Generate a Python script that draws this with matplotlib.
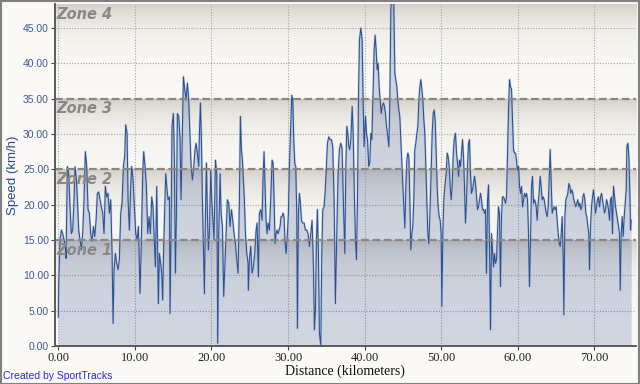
import numpy as np
import matplotlib
matplotlib.use("Agg")
import matplotlib.pyplot as plt
from matplotlib.patches import Rectangle

# ---------------- data ----------------
distance_km = [
    0.0, 0.05, 0.22, 0.40, 0.57, 0.74, 0.92, 1.01, 1.18, 1.35, 1.53, 1.70, 1.88, 2.05, 2.18, 2.36, 2.49,
    2.66, 2.83, 3.01, 3.18, 3.36, 3.53, 3.71, 3.88, 4.05, 4.23, 4.40, 4.58, 4.75, 4.93, 5.10, 5.27, 5.45,
    5.62, 5.80, 5.97, 6.14, 6.32, 6.49, 6.67, 6.84, 7.02, 7.15, 7.28, 7.45, 7.63, 7.80, 7.97, 8.15, 8.32,
    8.50, 8.67, 8.80, 8.98, 9.11, 9.28, 9.45, 9.58, 9.76, 9.93, 10.11, 10.28, 10.46, 10.67, 10.85, 11.02,
    11.15, 11.33, 11.50, 11.68, 11.85, 12.02, 12.20, 12.37,
    12.50, 12.68, 12.85, 13.07, 13.20, 13.37, 13.50, 13.63, 13.72, 13.90, 14.03, 14.16, 14.33, 14.51,
    14.59, 14.72, 14.85, 15.03, 15.16, 15.29, 15.42, 15.55, 15.73, 15.90, 16.03, 16.20, 16.34, 16.51,
    16.68, 16.86, 17.03, 17.21, 17.34, 17.51, 17.69, 17.86, 17.99, 18.16, 18.34, 18.43, 18.56, 18.69,
    18.82, 18.95, 19.08, 19.21, 19.34, 19.47, 19.60, 19.73, 19.91, 20.04, 20.17, 20.34, 20.52, 20.69,
    20.82, 20.95, 21.13, 21.26, 21.43, 21.60, 21.78, 21.91, 22.08, 22.26, 22.43, 22.61, 22.78, 22.95,
    23.13, 23.30, 23.48, 23.65, 23.78, 23.91, 24.04, 24.17, 24.30, 24.44, 24.61, 24.78,
    24.82, 24.96, 25.13, 25.30, 25.48, 25.65, 25.83, 25.96, 26.13, 26.26, 26.44, 26.61, 26.74, 26.87,
    27.00, 27.13, 27.26, 27.39, 27.57, 27.74, 27.92, 28.05, 28.18, 28.31, 28.44, 28.57, 28.70, 28.83,
    28.96, 29.09, 29.22, 29.35, 29.48, 29.62, 29.75, 29.92, 30.05, 30.18, 30.36, 30.49, 30.62, 30.75,
    30.88, 31.01, 31.14, 31.23, 31.36, 31.49, 31.62, 31.75, 31.92, 32.10, 32.27, 32.45, 32.62, 32.79,
    32.97, 33.14, 33.32, 33.45, 33.58, 33.71, 33.84, 33.97, 34.10, 34.28, 34.41, 34.54, 34.71, 34.84,
    34.97, 35.15, 35.32, 35.49, 35.67, 35.84, 36.02, 36.19, 36.37, 36.54, 36.71, 36.89, 37.06, 37.24,
    37.42, 37.55, 37.68, 37.81, 37.94, 38.07, 38.20, 38.38, 38.51, 38.68, 38.81, 38.94, 39.07, 39.20,
    39.33, 39.51, 39.68, 39.81, 39.94, 40.12, 40.25, 40.38, 40.55, 40.68, 40.82, 40.95, 41.08, 41.25,
    41.38, 41.51, 41.64, 41.77, 41.90, 42.03, 42.17, 42.30, 42.47, 42.60, 42.73, 42.86, 42.99, 43.17,
    43.30, 43.43, 43.56, 43.69, 43.82, 43.95, 44.08, 44.21, 44.34, 44.47, 44.60, 44.73, 44.87, 45.00,
    45.13, 45.26, 45.39, 45.52, 45.65, 45.78, 45.91, 46.04, 46.17, 46.30, 46.43, 46.56, 46.69, 46.83,
    46.96, 47.09, 47.22, 47.35, 47.48, 47.61, 47.74, 47.87, 48.00, 48.13, 48.26, 48.39, 48.52, 48.65,
    48.83, 48.96, 49.09, 49.22, 49.35, 49.48, 49.61, 49.74, 49.87, 50.00, 50.09,
    50.22, 50.35, 50.48, 50.66, 50.79, 50.92, 51.05, 51.18, 51.31, 51.44, 51.57, 51.70, 51.87, 52.01,
    52.14, 52.27, 52.40, 52.53, 52.66, 52.79, 52.92, 53.05, 53.18, 53.31, 53.44, 53.57, 53.70, 53.83,
    53.96, 54.10, 54.23, 54.36, 54.49, 54.62, 54.75, 54.88, 55.01, 55.14, 55.27, 55.40, 55.53, 55.66,
    55.79, 55.92, 56.06, 56.19, 56.32, 56.45, 56.58, 56.71, 56.84, 56.97, 57.10, 57.23, 57.36, 57.49,
    57.62, 57.75, 57.88, 58.01, 58.15, 58.28, 58.41, 58.54, 58.67, 58.80, 58.93, 59.06, 59.19, 59.32,
    59.45, 59.58, 59.71, 59.84, 59.97, 60.11, 60.24, 60.37, 60.50, 60.63, 60.76, 60.89, 61.02, 61.15,
    61.28, 61.41, 61.54, 61.67, 61.80, 61.93, 62.07, 62.20, 62.33,
    62.41, 62.54, 62.67, 62.80, 62.93, 63.06, 63.20, 63.33, 63.46, 63.59, 63.72, 63.85, 63.98, 64.11,
    64.24, 64.37, 64.50, 64.63, 64.76, 64.89, 65.02, 65.15, 65.29, 65.42, 65.55, 65.68, 65.81, 65.94,
    66.03, 66.16, 66.29, 66.42, 66.55, 66.68, 66.81, 66.94, 67.07, 67.20, 67.33, 67.46, 67.59, 67.72,
    67.85, 67.99, 68.12, 68.25, 68.38, 68.51, 68.64, 68.77, 68.90, 69.03, 69.16, 69.29, 69.38, 69.51,
    69.64, 69.77, 69.90, 70.03, 70.16, 70.29, 70.42, 70.55, 70.69, 70.82, 70.95, 71.08, 71.21, 71.34,
    71.47, 71.60, 71.73, 71.86, 71.99, 72.12, 72.25, 72.38, 72.51, 72.65, 72.78, 72.91, 73.04, 73.17,
    73.30, 73.39, 73.52, 73.65, 73.78, 73.91, 74.04, 74.17, 74.26, 74.39, 74.52, 74.65, 74.74, 74.82,
]

speed_kmh = [
    4.1, 8.9, 15.0, 16.4, 15.9, 15.0, 14.1, 12.4, 25.4, 24.4, 19.7, 15.9, 16.4, 20.7, 25.4, 23.5, 20.7,
    16.4, 15.0, 13.6, 15.9, 20.7, 27.5, 25.4, 19.3, 18.8, 15.9, 14.8, 16.9, 15.5, 17.8, 21.6, 21.8, 20.7,
    19.7, 18.8, 15.9, 22.6, 21.1, 21.6, 18.8, 20.7, 13.1, 3.2, 10.8, 13.1, 11.7, 10.8, 12.2, 18.8, 20.2,
    25.4, 26.8, 31.3, 30.1, 20.7, 16.4, 22.6, 25.4, 23.5, 19.7, 15.9, 15.0, 16.9, 7.4, 15.0, 24.4,
    27.5, 25.4, 22.6, 15.9, 18.3, 15.9, 21.1, 19.7,
    15.9, 11.2, 22.6, 6.0, 13.1, 11.7, 10.3, 6.5, 12.2, 19.7, 24.4, 22.6, 20.7, 21.1,
    4.6, 15.9, 31.1, 32.9, 26.3, 10.3, 18.3, 32.9, 32.5, 29.2, 20.7, 30.1, 38.1, 36.3,
    34.8, 37.2, 34.8, 29.2, 25.4, 23.5, 25.4, 27.8, 28.7, 27.3, 25.4, 30.1, 34.4, 29.2,
    20.7, 14.1, 7.4, 18.3, 25.9, 18.8, 13.6, 15.9, 24.9, 20.7, 18.3, 15.0, 26.3, 24.4,
    0.4, 15.9, 24.4, 18.8, 16.9, 7.0, 12.2, 15.9, 20.7, 20.2, 16.9, 19.3, 17.8, 15.9,
    14.5, 12.2, 10.3, 20.7, 32.5, 27.8, 26.3, 23.5, 20.7, 15.9, 13.1, 11.7,
    7.9, 12.2, 14.1, 10.3, 11.2, 13.1, 16.4, 17.4, 9.8, 18.8, 19.3, 17.8, 24.0, 27.5,
    22.6, 17.8, 15.9, 17.4, 16.4, 20.7, 26.3, 25.9, 20.7, 14.5, 15.9, 16.4, 15.9, 16.4,
    16.9, 18.3, 18.3, 18.8, 18.3, 14.5, 13.1, 15.9, 18.8, 25.4, 31.5, 35.5, 34.8, 29.2,
    25.9, 25.4, 18.8, 2.5, 18.8, 21.6, 20.2, 17.8, 17.4, 17.4, 16.4, 16.4, 15.9, 14.1,
    15.9, 17.8, 11.2, 2.3, 5.1, 15.0, 19.3, 13.1, 1.8, 0.1, 13.1, 19.3, 19.7, 21.6,
    24.4, 28.7, 29.6, 29.2, 29.2, 28.2, 20.7, 6.0, 15.9, 24.4, 27.8, 28.7, 28.0, 20.0,
    13.1, 25.4, 31.1, 30.1, 28.2, 27.8, 29.2, 33.9, 30.1, 20.7, 15.0, 12.2, 20.7, 34.8,
    43.3, 45.0, 43.3, 34.8, 28.2, 32.5, 30.1, 29.2, 25.4, 25.9, 30.1, 29.2, 34.8, 41.9,
    44.0, 41.9, 39.1, 40.0, 36.7, 34.8, 32.9, 33.9, 34.4, 33.9, 32.9, 31.1, 30.1, 28.2,
    34.8, 47.6, 50.0, 50.5, 48.1, 38.6, 37.7, 36.7, 34.8, 33.4, 32.5, 29.2, 25.4, 22.6,
    19.7, 16.7, 22.6, 26.3, 27.3, 26.8, 20.7, 13.6, 15.9, 16.9, 20.7, 27.8, 28.7, 30.1,
    31.1, 34.8, 36.7, 37.7, 36.3, 34.8, 32.0, 30.1, 25.4, 20.7, 15.9, 14.5, 18.3, 23.0,
    30.1, 32.9, 33.4, 32.0, 27.3, 22.6, 19.7, 18.3, 17.8, 15.9, 5.6,
    15.9, 20.7, 22.6, 24.4, 27.3, 26.8, 25.4, 22.6, 20.7, 22.6, 26.8, 29.2, 30.1, 27.3,
    25.9, 24.0, 26.3, 25.4, 27.3, 29.2, 26.8, 22.6, 17.4, 20.7, 25.4, 28.7, 29.2, 24.4,
    21.6, 22.1, 23.0, 24.0, 23.0, 21.1, 19.3, 19.7, 20.7, 21.6, 20.7, 19.3, 19.3, 18.8,
    19.3, 10.3, 20.7, 22.8, 14.1, 2.3, 15.9, 13.6, 11.2, 13.1, 11.7, 12.2, 15.9, 19.7,
    18.8, 8.4, 18.3, 21.1, 21.1, 20.7, 20.2, 21.1, 27.3, 33.4, 37.7, 36.7, 36.3, 32.0,
    27.8, 27.3, 27.3, 26.3, 24.9, 25.4, 22.6, 21.6, 22.6, 19.7, 20.7, 21.6, 21.1, 21.6,
    20.7, 15.9, 8.4, 15.0, 22.6, 24.0, 20.2, 20.7, 20.2,
    19.7, 17.8, 20.2, 21.6, 24.0, 22.6, 20.7, 21.1, 20.7, 19.7, 18.8, 18.3, 19.7, 23.5,
    27.8, 23.5, 18.8, 19.3, 19.7, 19.3, 19.7, 17.8, 15.9, 14.5, 14.1, 15.9, 18.3, 12.2,
    4.4, 18.3, 20.7, 21.1, 21.6, 23.0, 22.6, 21.6, 22.1, 21.6, 20.7, 20.2, 19.7, 20.2,
    20.7, 19.7, 20.2, 19.3, 19.7, 21.1, 21.6, 20.7, 18.8, 18.3, 16.9, 15.9, 10.8, 16.9,
    19.7, 21.1, 22.1, 20.7, 18.8, 19.7, 20.7, 21.1, 19.7, 21.1, 21.6, 20.7, 19.7, 18.8,
    19.3, 20.7, 20.2, 19.3, 17.8, 20.7, 21.1, 15.9, 22.6, 21.1, 19.7, 18.8, 17.8, 16.9,
    15.9, 7.9, 15.9, 18.3, 15.5, 18.3, 20.2, 22.1, 28.2, 28.7, 26.8, 21.6, 16.4, 17.8,
]

zone_bounds = [0, 15, 25, 35, 48.4]
zone_labels = ["Zone 1", "Zone 2", "Zone 3", "Zone 4"]
x_ticks = [0, 10, 20, 30, 40, 50, 60, 70]
y_ticks = [0, 5, 10, 15, 20, 25, 30, 35, 40, 45]

# ---------------- figure ----------------
W, H = 640, 384
fig = plt.figure(figsize=(W / 100, H / 100), dpi=100)
bg = "#faf9f5"
fig.patch.set_facecolor(bg)

ax = fig.add_axes([54.5 / W, (H - 346) / H, (636 - 54.5) / W, (346 - 4) / H])
xmin, xmax = -0.5, 75.45
ymin, ymax = zone_bounds[0], zone_bounds[-1]
ax.set_xlim(xmin, xmax)
ax.set_ylim(ymin, ymax)

# zone gradient background
ys = np.linspace(ymin, ymax, 700)
top_col = np.array([212, 208, 201]) / 255.0
white = np.array([250, 249, 245]) / 255.0
img = np.zeros((len(ys), 1, 3))
for i, y in enumerate(ys):
    top = min(b for b in zone_bounds[1:] if b >= y)
    f = np.exp(-(top - y) / 3.0)
    img[i, 0, :] = white + (top_col - white) * f
ax.imshow(img, extent=[xmin, xmax, ymin, ymax], origin="lower", aspect="auto",
          interpolation="bilinear", zorder=0)

# grid
for xt in x_ticks:
    ax.axvline(xt, color="#a5a5a5", lw=0.8, ls=(0, (1, 1.5)), zorder=1)
for yt in y_ticks:
    ax.axhline(yt, color="#a5a5a5", lw=0.8, ls=(0, (1, 1.5)), zorder=1)

# zone boundaries
for b in zone_bounds[1:-1]:
    ax.axhline(b, color="#8e8480", lw=1.6, ls=(0, (3.5, 1.6)), zorder=4)

# data
ax.fill_between(distance_km, speed_kmh, 0, color="#27498f", alpha=0.2, lw=0, zorder=2)
ax.plot(distance_km, speed_kmh, color="#9aabcb", lw=1.6, alpha=0.45, zorder=3,
        solid_joinstyle="round")
ax.plot(distance_km, speed_kmh, color="#2b5191", lw=0.75, zorder=3)

# zone labels
for lab, top in zip(zone_labels, zone_bounds[1:]):
    ax.annotate(lab, xy=(xmin, top), xytext=(1.5, -2.0), textcoords="offset points",
                ha="left", va="top", fontsize=10.5, fontweight="bold", fontstyle="italic",
                family="DejaVu Sans", color="#8a8886", zorder=5)

# axes styling
for s in ["top", "right"]:
    ax.spines[s].set_visible(False)
for s in ["left", "bottom"]:
    ax.spines[s].set_color("#5a5a5a")
    ax.spines[s].set_linewidth(1.4)
    ax.spines[s].set_zorder(6)

ax.set_xticks(x_ticks)
ax.set_xticklabels([f"{v:.2f}" for v in x_ticks], family="Liberation Serif", fontsize=9,
                   color="#222222")
ax.set_yticks(y_ticks)
ax.set_yticklabels([f"{v:.2f}" for v in y_ticks], family="Liberation Sans", fontsize=7.5,
                   color="#3d5b98")
ax.tick_params(axis="both", length=3, width=0.8, color="#444444", pad=1)

ax.set_xlabel("Distance (kilometers)", family="Liberation Serif", fontsize=10,
              color="#111111", labelpad=1)
ax.set_ylabel("Speed (km/h)", family="Liberation Sans", fontsize=9.5, color="#2b4b8c",
              labelpad=3)

fig.text(3 / W, 1 - 376 / H, "Created by SportTracks", family="Liberation Sans",
         fontsize=7.5, color="#2a2ae6", ha="left", va="center")

# image border
fig.patches.append(Rectangle((0.5 / W, 0.5 / H), 1 - 1.5 / W, 1 - 1.5 / H,
                             transform=fig.transFigure, fill=False, edgecolor="#808080",
                             lw=1.5))

fig.savefig("out.png", dpi=100, facecolor=bg)
